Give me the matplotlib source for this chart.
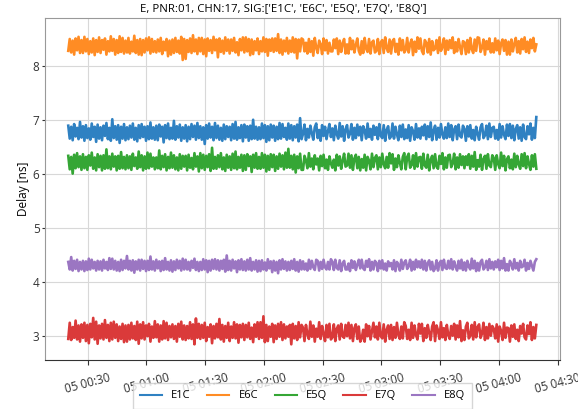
import matplotlib
matplotlib.use("Agg")
import matplotlib.pyplot as plt
import matplotlib.dates as mdates
import pandas as pd

# delay samples [ns] (dense, noisy traces)
e1c = [6.90, 6.66, 6.88, 6.63, 6.93, 6.70, 6.86, 6.65, 6.97, 6.68,
       6.89, 6.62, 6.91, 6.67, 6.85, 6.64, 6.94, 6.69, 6.88, 6.60,
       6.92, 6.66, 6.87, 6.63, 6.90, 6.71, 6.95, 6.65, 6.86, 6.62,
       7.02, 6.67, 6.89, 6.64, 6.91, 6.58, 6.88, 6.66, 6.93, 6.63,
       6.87, 6.65, 6.90, 6.68, 6.94, 6.64, 6.86, 6.61, 6.91, 6.67,
       6.93, 6.69, 6.88, 6.62, 6.89, 6.65, 6.96, 6.66, 6.87, 6.64,
       6.90, 6.63, 6.92, 6.70, 6.88, 6.59, 6.91, 6.67, 6.94, 6.65,
       6.86, 6.66, 6.99, 6.64, 6.89, 6.68, 6.92, 6.62, 6.87, 6.66,
       6.91, 6.61, 6.88, 6.65, 6.93, 6.69, 6.90, 6.64, 6.95, 6.67,
       6.89, 6.64, 6.87, 6.56, 6.91, 6.66, 6.94, 6.68, 6.88, 6.63,
       6.95, 6.67, 6.90, 6.64, 6.86, 6.62, 6.92, 6.65, 6.89, 6.69,
       6.88, 6.63, 6.93, 6.66, 6.97, 6.64, 6.87, 6.67, 6.91, 6.61,
       6.92, 6.68, 6.89, 6.62, 6.90, 6.65, 7.01, 6.66, 6.88, 6.64,
       6.87, 6.65, 6.94, 6.67, 6.91, 6.60, 6.89, 6.63, 6.92, 6.68,
       6.90, 6.62, 6.88, 6.65, 6.95, 6.66, 6.93, 6.69, 6.86, 6.64,
       6.94, 6.66, 6.91, 6.63, 6.89, 6.68, 6.92, 6.61, 7.04, 6.65,
       6.75, 6.92, 6.63, 6.84, 6.68, 6.90, 6.76, 6.64, 6.87, 6.94,
       6.67, 6.82, 6.62, 6.91, 6.71, 6.88, 6.65, 6.80, 6.93, 6.69,
       6.85, 6.63, 6.90, 6.74, 6.66, 6.95, 6.70, 6.89, 6.62, 6.83,
       6.91, 6.68, 6.75, 6.93, 6.64, 6.86, 6.67, 6.92, 6.72, 6.88,
       6.63, 6.89, 6.81, 6.66, 6.94, 6.69, 6.84, 6.64, 6.90, 6.73,
       6.87, 6.65, 6.93, 6.71, 6.67, 6.91, 6.62, 6.82, 6.89, 6.66,
       6.70, 6.94, 6.66, 6.88, 6.74, 6.63, 6.90, 6.69, 6.92, 6.65,
       6.83, 6.67, 6.91, 6.62, 6.87, 6.80, 6.64, 6.93, 6.68, 6.85,
       6.66, 6.88, 6.72, 6.92, 6.65, 6.89, 6.69, 6.96, 6.63, 6.81,
       6.90, 6.64, 6.86, 6.68, 6.93, 6.73, 6.66, 6.87, 6.67, 6.94,
       6.69, 6.91, 6.63, 6.83, 6.89, 6.65, 6.92, 6.71, 6.68, 6.90,
       6.84, 6.62, 6.89, 6.70, 6.91, 6.66, 6.82, 6.63, 6.88, 6.75,
       6.64, 6.87, 6.93, 6.67, 6.72, 6.90, 6.65, 6.94, 6.69, 6.86,
       6.88, 6.66, 6.82, 6.64, 6.93, 6.68, 6.89, 6.73, 6.65, 6.92,
       6.71, 6.93, 6.67, 6.90, 6.63, 6.84, 6.91, 6.66, 6.87, 6.62,
       6.92, 6.69, 6.65, 6.89, 6.74, 6.94, 6.64, 6.86, 6.67, 7.06]

e6c = [8.29, 8.51, 8.26, 8.48, 8.22, 8.52, 8.30, 8.55, 8.25, 8.49,
       8.25, 8.55, 8.28, 8.51, 8.23, 8.47, 8.26, 8.52, 8.21, 8.49,
       8.27, 8.54, 8.25, 8.49, 8.31, 8.52, 8.22, 8.47, 8.28, 8.56,
       8.29, 8.51, 8.22, 8.49, 8.25, 8.56, 8.27, 8.53, 8.24, 8.48,
       8.26, 8.53, 8.24, 8.46, 8.28, 8.57, 8.25, 8.49, 8.22, 8.51,
       8.21, 8.49, 8.26, 8.52, 8.30, 8.54, 8.24, 8.51, 8.27, 8.47,
       8.26, 8.50, 8.28, 8.53, 8.23, 8.46, 8.30, 8.51, 8.19, 8.48,
       8.22, 8.50, 8.25, 8.53, 8.27, 8.48, 8.24, 8.55, 8.12, 8.51,
       8.14, 8.49, 8.27, 8.52, 8.25, 8.58, 8.28, 8.50, 8.23, 8.53,
       8.28, 8.53, 8.23, 8.50, 8.19, 8.52, 8.29, 8.49, 8.25, 8.55,
       8.30, 8.50, 8.17, 8.52, 8.27, 8.48, 8.24, 8.54, 8.29, 8.50,
       8.24, 8.50, 8.29, 8.53, 8.26, 8.45, 8.21, 8.51, 8.30, 8.54,
       8.26, 8.54, 8.28, 8.51, 8.21, 8.50, 8.23, 8.47, 8.30, 8.52,
       8.23, 8.47, 8.28, 8.54, 8.27, 8.51, 8.20, 8.50, 8.29, 8.52,
       8.27, 8.52, 8.29, 8.60, 8.25, 8.50, 8.22, 8.48, 8.28, 8.53,
       8.24, 8.48, 8.27, 8.54, 8.26, 8.51, 8.15, 8.50, 8.28, 8.52,
       8.50, 8.28, 8.44, 8.24, 8.51, 8.27, 8.47, 8.20, 8.53, 8.35,
       8.25, 8.48, 8.41, 8.23, 8.52, 8.30, 8.49, 8.24, 8.44, 8.28,
       8.28, 8.50, 8.34, 8.52, 8.23, 8.48, 8.27, 8.43, 8.51, 8.24,
       8.41, 8.24, 8.53, 8.32, 8.48, 8.26, 8.40, 8.52, 8.29, 8.22,
       8.47, 8.25, 8.53, 8.33, 8.27, 8.51, 8.24, 8.45, 8.48, 8.26,
       8.29, 8.51, 8.23, 8.45, 8.49, 8.25, 8.54, 8.34, 8.27, 8.50,
       8.24, 8.47, 8.51, 8.27, 8.42, 8.22, 8.52, 8.30, 8.49, 8.26,
       8.31, 8.53, 8.26, 8.42, 8.50, 8.21, 8.46, 8.27, 8.54, 8.33,
       8.52, 8.29, 8.23, 8.49, 8.44, 8.26, 8.51, 8.22, 8.47, 8.30,
       8.33, 8.49, 8.25, 8.54, 8.29, 8.36, 8.52, 8.23, 8.48, 8.31,
       8.49, 8.34, 8.54, 8.25, 8.45, 8.28, 8.51, 8.36, 8.23, 8.47,
       8.45, 8.23, 8.49, 8.26, 8.53, 8.32, 8.25, 8.50, 8.29, 8.54,
       8.53, 8.27, 8.35, 8.50, 8.22, 8.47, 8.32, 8.52, 8.26, 8.43,
       8.26, 8.52, 8.30, 8.48, 8.23, 8.43, 8.50, 8.29, 8.49, 8.22,
       8.46, 8.22, 8.50, 8.28, 8.42, 8.53, 8.26, 8.47, 8.24, 8.51,
       8.32, 8.54, 8.27, 8.46, 8.25, 8.50, 8.34, 8.53, 8.28, 8.41]

e5q = [6.34, 6.09, 6.32, 6.01, 6.36, 6.11, 6.39, 6.13, 6.33, 6.08,
       6.37, 6.11, 6.32, 6.08, 6.35, 6.16, 6.40, 6.10, 6.31, 6.07,
       6.37, 6.13, 6.34, 6.07, 6.35, 6.10, 6.46, 6.11, 6.33, 6.09,
       6.38, 6.14, 6.33, 6.07, 6.34, 6.10, 6.41, 6.11, 6.32, 6.09,
       6.35, 6.11, 6.33, 6.08, 6.38, 6.15, 6.31, 6.10, 6.42, 6.13,
       6.35, 6.07, 6.33, 6.10, 6.40, 6.11, 6.38, 6.14, 6.31, 6.09,
       6.31, 6.11, 6.44, 6.09, 6.34, 6.13, 6.37, 6.07, 6.32, 6.11,
       6.40, 6.12, 6.35, 6.09, 6.31, 6.07, 6.37, 6.10, 6.34, 6.14,
       6.34, 6.07, 6.36, 6.12, 6.30, 6.09, 6.39, 6.14, 6.33, 6.05,
       6.39, 6.11, 6.36, 6.08, 6.34, 6.13, 6.37, 6.06, 6.49, 6.10,
       6.32, 6.10, 6.35, 6.13, 6.39, 6.09, 6.31, 6.06, 6.36, 6.12,
       6.33, 6.08, 6.38, 6.11, 6.42, 6.09, 6.32, 6.12, 6.36, 6.06,
       6.35, 6.08, 6.37, 6.15, 6.33, 6.04, 6.36, 6.12, 6.39, 6.10,
       6.32, 6.10, 6.39, 6.12, 6.36, 6.05, 6.34, 6.08, 6.37, 6.13,
       6.36, 6.06, 6.33, 6.10, 6.38, 6.14, 6.35, 6.09, 6.40, 6.12,
       6.47, 6.12, 6.34, 6.09, 6.36, 6.03, 6.33, 6.11, 6.38, 6.08,
       6.08, 6.34, 6.26, 6.11, 6.39, 6.14, 6.29, 6.09, 6.35, 6.18,
       6.29, 6.07, 6.34, 6.15, 6.36, 6.11, 6.27, 6.08, 6.33, 6.20,
       6.12, 6.27, 6.07, 6.36, 6.16, 6.33, 6.10, 6.25, 6.38, 6.14,
       6.16, 6.38, 6.12, 6.35, 6.08, 6.29, 6.36, 6.11, 6.32, 6.07,
       6.28, 6.12, 6.36, 6.07, 6.32, 6.25, 6.09, 6.38, 6.13, 6.30,
       6.35, 6.09, 6.31, 6.13, 6.38, 6.18, 6.11, 6.32, 6.12, 6.39,
       6.20, 6.37, 6.08, 6.29, 6.13, 6.35, 6.21, 6.09, 6.32, 6.39,
       6.09, 6.32, 6.38, 6.12, 6.17, 6.35, 6.10, 6.39, 6.14, 6.31,
       6.32, 6.10, 6.38, 6.16, 6.12, 6.36, 6.07, 6.27, 6.34, 6.11,
       6.37, 6.14, 6.10, 6.34, 6.19, 6.39, 6.09, 6.31, 6.12, 6.35,
       6.36, 6.13, 6.20, 6.38, 6.09, 6.31, 6.12, 6.37, 6.17, 6.33,
       6.11, 6.33, 6.17, 6.37, 6.10, 6.34, 6.14, 6.41, 6.08, 6.26,
       6.14, 6.36, 6.08, 6.28, 6.34, 6.10, 6.37, 6.16, 6.13, 6.35,
       6.30, 6.08, 6.35, 6.19, 6.11, 6.40, 6.15, 6.34, 6.07, 6.28,
       6.33, 6.11, 6.27, 6.09, 6.38, 6.13, 6.34, 6.18, 6.10, 6.37,
       6.15, 6.39, 6.11, 6.33, 6.19, 6.08, 6.35, 6.14, 6.37, 6.10]

e7q = [2.94, 3.24, 2.92, 3.16, 2.96, 3.28, 2.93, 3.19, 2.89, 3.21,
       2.96, 3.24, 2.90, 3.20, 2.86, 3.22, 2.97, 3.33, 2.93, 3.26,
       2.85, 3.19, 2.95, 3.22, 2.93, 3.29, 2.96, 3.20, 2.90, 3.24,
       2.93, 3.26, 2.96, 3.21, 2.90, 3.17, 2.94, 3.22, 2.88, 3.19,
       2.89, 3.20, 2.93, 3.24, 2.95, 3.18, 2.92, 3.26, 2.85, 3.21,
       2.95, 3.25, 2.93, 3.19, 2.99, 3.22, 2.89, 3.17, 2.96, 3.27,
       2.97, 3.21, 2.89, 3.19, 2.93, 3.27, 2.95, 3.24, 2.92, 3.18,
       2.97, 3.21, 2.94, 3.18, 2.89, 3.22, 2.98, 3.26, 2.93, 3.19,
       2.92, 3.18, 2.95, 3.25, 2.94, 3.21, 2.84, 3.32, 2.96, 3.22,
       2.94, 3.20, 2.96, 3.24, 2.90, 3.16, 2.98, 3.21, 2.86, 3.18,
       2.95, 3.22, 2.97, 3.31, 2.93, 3.20, 2.89, 3.18, 2.96, 3.24,
       2.90, 3.17, 2.96, 3.25, 2.95, 3.21, 2.87, 3.20, 2.97, 3.22,
       2.92, 3.20, 2.97, 3.24, 2.94, 3.15, 2.88, 3.21, 2.98, 3.25,
       2.94, 3.25, 2.96, 3.36, 2.88, 3.20, 2.90, 3.17, 2.98, 3.22,
       2.88, 3.19, 2.94, 3.22, 2.98, 3.25, 2.92, 3.21, 2.95, 3.17,
       2.98, 3.20, 2.84, 3.22, 2.95, 3.18, 2.92, 3.25, 2.97, 3.20,
       3.15, 2.90, 3.20, 3.03, 2.94, 3.26, 2.98, 3.19, 2.89, 3.13,
       2.98, 3.25, 2.94, 3.18, 3.03, 2.90, 3.20, 2.97, 3.22, 2.93,
       2.97, 3.21, 2.90, 3.13, 3.19, 2.93, 3.22, 2.99, 2.96, 3.20,
       2.99, 3.24, 2.95, 3.20, 2.90, 3.14, 3.21, 2.94, 3.17, 2.89,
       2.95, 3.11, 2.89, 3.21, 2.99, 3.18, 2.93, 3.09, 3.24, 2.97,
       3.17, 2.93, 3.24, 2.99, 2.95, 3.21, 2.89, 3.11, 3.19, 2.94,
       3.20, 2.92, 3.16, 2.96, 3.24, 3.01, 2.94, 3.17, 2.95, 3.25,
       3.18, 2.94, 3.11, 2.92, 3.24, 2.96, 3.19, 3.01, 2.93, 3.22,
       3.04, 3.22, 2.90, 3.14, 2.96, 3.20, 3.05, 2.92, 3.17, 3.25,
       2.90, 3.19, 3.10, 2.94, 3.25, 2.97, 3.14, 2.92, 3.20, 3.01,
       2.94, 3.18, 3.00, 3.22, 2.93, 3.19, 2.97, 3.27, 2.90, 3.10,
       2.92, 3.17, 3.24, 2.95, 3.00, 3.20, 2.93, 3.25, 2.97, 3.16,
       3.21, 2.96, 3.04, 3.24, 2.92, 3.16, 2.95, 3.22, 3.00, 3.18,
       3.13, 2.95, 3.21, 2.89, 3.17, 3.09, 2.92, 3.24, 2.96, 3.15,
       3.14, 2.89, 3.19, 2.98, 3.21, 2.94, 3.11, 2.90, 3.18, 3.04,
       3.22, 2.97, 2.93, 3.19, 3.03, 3.25, 2.92, 3.16, 2.95, 3.20]

e8q = [4.37, 4.23, 4.46, 4.21, 4.39, 4.24, 4.41, 4.20, 4.37, 4.23,
       4.39, 4.20, 4.38, 4.22, 4.43, 4.23, 4.41, 4.25, 4.37, 4.21,
       4.39, 4.23, 4.38, 4.21, 4.41, 4.25, 4.37, 4.22, 4.44, 4.24,
       4.43, 4.23, 4.39, 4.21, 4.37, 4.20, 4.41, 4.22, 4.39, 4.25,
       4.48, 4.23, 4.39, 4.21, 4.40, 4.17, 4.38, 4.23, 4.41, 4.21,
       4.41, 4.24, 4.39, 4.20, 4.39, 4.22, 4.47, 4.23, 4.38, 4.21,
       4.41, 4.25, 4.38, 4.20, 4.39, 4.22, 4.44, 4.23, 4.37, 4.21,
       4.40, 4.19, 4.38, 4.22, 4.41, 4.25, 4.39, 4.21, 4.43, 4.23,
       4.41, 4.23, 4.37, 4.21, 4.39, 4.26, 4.43, 4.22, 4.37, 4.20,
       4.37, 4.22, 4.42, 4.23, 4.40, 4.18, 4.39, 4.21, 4.41, 4.24,
       4.42, 4.23, 4.40, 4.21, 4.39, 4.24, 4.41, 4.19, 4.49, 4.22,
       4.39, 4.21, 4.41, 4.25, 4.38, 4.18, 4.40, 4.23, 4.42, 4.22,
       4.38, 4.21, 4.41, 4.23, 4.44, 4.21, 4.37, 4.23, 4.40, 4.19,
       4.39, 4.20, 4.40, 4.23, 4.36, 4.21, 4.42, 4.25, 4.38, 4.18,
       4.39, 4.21, 4.37, 4.16, 4.40, 4.23, 4.42, 4.24, 4.38, 4.21,
       4.37, 4.22, 4.39, 4.24, 4.42, 4.21, 4.37, 4.19, 4.40, 4.23,
       4.38, 4.23, 4.34, 4.21, 4.41, 4.24, 4.39, 4.27, 4.22, 4.41,
       4.39, 4.21, 4.37, 4.24, 4.41, 4.27, 4.23, 4.37, 4.23, 4.42,
       4.37, 4.22, 4.41, 4.26, 4.23, 4.40, 4.20, 4.34, 4.39, 4.23,
       4.23, 4.34, 4.20, 4.40, 4.26, 4.38, 4.22, 4.32, 4.41, 4.25,
       4.41, 4.25, 4.22, 4.39, 4.28, 4.42, 4.21, 4.37, 4.23, 4.39,
       4.35, 4.20, 4.39, 4.25, 4.40, 4.23, 4.34, 4.21, 4.38, 4.29,
       4.35, 4.23, 4.40, 4.20, 4.37, 4.32, 4.21, 4.41, 4.24, 4.36,
       4.40, 4.24, 4.29, 4.41, 4.21, 4.37, 4.23, 4.41, 4.27, 4.38,
       4.26, 4.41, 4.23, 4.39, 4.21, 4.35, 4.40, 4.23, 4.37, 4.20,
       4.25, 4.40, 4.21, 4.35, 4.39, 4.22, 4.41, 4.26, 4.24, 4.39,
       4.25, 4.42, 4.23, 4.38, 4.28, 4.21, 4.39, 4.25, 4.41, 4.22,
       4.36, 4.21, 4.39, 4.28, 4.23, 4.43, 4.25, 4.39, 4.20, 4.35,
       4.21, 4.37, 4.41, 4.23, 4.27, 4.39, 4.22, 4.42, 4.25, 4.37,
       4.23, 4.38, 4.27, 4.41, 4.22, 4.39, 4.25, 4.44, 4.21, 4.33,
       4.21, 4.39, 4.33, 4.23, 4.42, 4.25, 4.35, 4.21, 4.39, 4.27,
       4.29, 4.41, 4.21, 4.35, 4.24, 4.39, 4.30, 4.21, 4.37, 4.42]

signals = ["E1C", "E6C", "E5Q", "E7Q", "E8Q"]
series = [e1c, e6c, e5q, e7q, e8q]
colors = ["#2f81c2", "#ff8c24", "#35a635", "#da3a3a", "#9b76c2"]

t = pd.date_range("2023-01-05 00:20:10", "2023-01-05 04:19:00", periods=len(e1c))

plt.rcParams["font.family"] = ["Open Sans", "DejaVu Sans"]
plt.rcParams["font.size"] = 8

fig = plt.figure(figsize=(5.78, 4.09), dpi=100)
ax = fig.add_axes([0.078, 0.12, 0.89, 0.836])

for name, vals, c in zip(signals, series, colors):
    ax.plot(t, vals, color=c, linewidth=1.9, label=name)

ax.set_ylim(2.55, 8.9)
ax.set_xlim(pd.Timestamp("2023-01-05 00:08:20"), pd.Timestamp("2023-01-05 04:30:50"))
ax.xaxis.set_major_locator(mdates.MinuteLocator(byminute=[0, 30]))
ax.xaxis.set_major_formatter(mdates.DateFormatter("%d %H:%M"))
plt.setp(ax.get_xticklabels(), rotation=15, ha="center")
ax.tick_params(labelsize=8.5, colors="#333333")
ax.tick_params(axis="x", pad=5)
ax.tick_params(axis="y", length=2, pad=2)
ax.grid(True, color="#d8d8d8", linewidth=0.8)
for side in ["top", "right", "left"]:
    ax.spines[side].set_color("#999999")
ax.spines["bottom"].set_color("#333333")

ax.set_ylabel("Delay [ns]", fontsize=8.5, labelpad=2)
fig.text(0.49, 0.976, "E, PNR:01, CHN:17, SIG:['E1C', 'E6C', 'E5Q', 'E7Q', 'E8Q']",
         fontsize=8.2, ha="center", va="center")
leg = ax.legend(loc="upper center", bbox_to_anchor=(0.5, -0.068), ncol=5, fontsize=8,
                borderaxespad=0, fancybox=False, edgecolor="#cccccc",
                columnspacing=1.5, borderpad=0.65)
for line in leg.get_lines():
    line.set_linewidth(1.5)

fig.savefig("out.png", dpi=100)
